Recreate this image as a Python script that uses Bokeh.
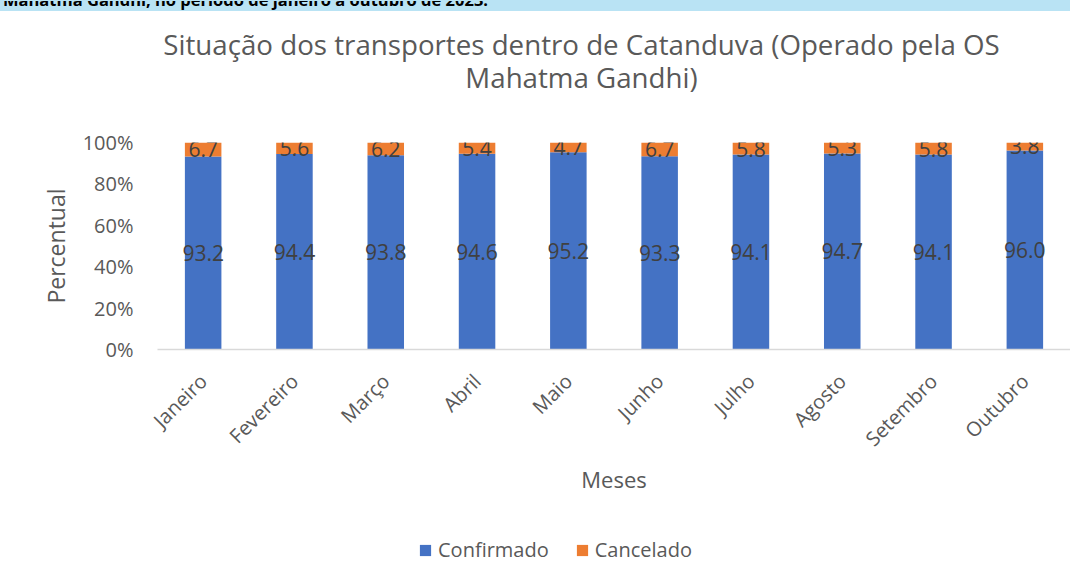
from bokeh.plotting import figure
from bokeh.layouts import column
from bokeh.models import (ColumnDataSource, FactorRange, LabelSet, Label, Legend, LegendItem,
                          NumeralTickFormatter, FixedTicker, Range1d, Div)
from bokeh.core.properties import value
from bokeh.embed import file_html
from bokeh.resources import INLINE
import math

months = ["Janeiro", "Fevereiro", "Março", "Abril", "Maio", "Junho", "Julho", "Agosto", "Setembro", "Outubro"]
confirmado = [93.2, 94.4, 93.8, 94.6, 95.2, 93.3, 94.1, 94.7, 94.1, 96.0]
cancelado = [6.7, 5.6, 6.2, 5.4, 4.7, 6.7, 5.8, 5.3, 5.8, 3.8]
series_names = ["Confirmado", "Cancelado"]
y_ticks = [0, 0.2, 0.4, 0.6, 0.8, 1.0]
heading = "Mahatma Gandhi, no período de janeiro a outubro de 2023."
title_line1 = "Situação dos transportes dentro de Catanduva (Operado pela OS"
title_line2 = "Mahatma Gandhi)"

FONT = "Open Sans"
GREY = "#595959"
LABEL = "#404040"
BLUE = "#4472C4"
ORANGE = "#ED7D31"
STRIP = "#B9E3F4"
W = 1070
LEFT = 157

totals = [a + b for a, b in zip(confirmado, cancelado)]
conf_f = [a / t for a, t in zip(confirmado, totals)]
canc_f = [b / t for b, t in zip(cancelado, totals)]

src = ColumnDataSource(dict(
    month=months,
    conf=conf_f,
    canc=canc_f,
    conf_mid=[c / 2 for c in conf_f],
    canc_mid=[c + d / 2 for c, d in zip(conf_f, canc_f)],
    conf_txt=[f"{v:.1f}" for v in confirmado],
    canc_txt=[f"{v:.1f}" for v in cancelado],
))

# ---- cut-off page heading on the light blue strip ----
head = Div(text=('<div style="height:11px;overflow:hidden;background:%s;">'
                 '<div style="font-family:\'Open Sans\';font-weight:bold;font-size:16.5px;'
                 'line-height:16px;color:#000;white-space:nowrap;margin-top:-9px;margin-left:3px;">'
                 '%s</div></div>') % (STRIP, heading),
           width=W, height=11, margin=0,
           styles={"background-color": STRIP, "overflow": "hidden"})

# ---- title block (frame is aligned with the chart frame by the column) ----
top = figure(width=W, height=109, x_range=Range1d(LEFT, W), y_range=Range1d(109, 0),
             x_axis_type=None, y_axis_type=None, output_backend="svg", toolbar_location=None,
             min_border=0)
top.outline_line_color = None
top.grid.visible = False
top.add_layout(Label(x=581, y=32, text=title_line1, text_align="center", text_baseline="alphabetic",
                     text_font=FONT, text_font_size="27.7px", text_color=GREY))
top.add_layout(Label(x=581, y=65, text=title_line2, text_align="center", text_baseline="alphabetic",
                     text_font=FONT, text_font_size="27.7px", text_color=GREY))

# ---- main chart ----
p = figure(x_range=FactorRange(*months, range_padding=0), y_range=(0, 1),
           width=W, height=400, output_backend="svg", toolbar_location=None,
           min_border_left=LEFT, min_border_right=0, min_border_top=22, min_border_bottom=171)
p.title.visible = False
p.outline_line_color = None
p.xgrid.grid_line_color = None
p.ygrid.grid_line_color = None

r = p.vbar_stack(["conf", "canc"], x="month", width=0.4, source=src,
                 color=[BLUE, ORANGE], line_color=None)

for ycol, tcol in (("conf_mid", "conf_txt"), ("canc_mid", "canc_txt")):
    p.add_layout(LabelSet(x="month", y=ycol, text=tcol, source=src,
                          text_align="center", text_baseline="middle",
                          text_font=value(FONT), text_font_size="21px", text_color=LABEL))

p.yaxis.ticker = FixedTicker(ticks=y_ticks)
p.yaxis.formatter = NumeralTickFormatter(format="0%")
p.yaxis.axis_line_color = None
p.yaxis.major_tick_line_color = None
p.yaxis.minor_tick_line_color = None
p.yaxis.major_tick_out = 0
p.yaxis.major_label_standoff = 24
p.yaxis.major_label_text_font = FONT
p.yaxis.major_label_text_font_size = "20px"
p.yaxis.major_label_text_color = GREY
p.yaxis.axis_label = "Percentual"
p.yaxis.axis_label_text_font = FONT
p.yaxis.axis_label_text_font_size = "23px"
p.yaxis.axis_label_text_font_style = "normal"
p.yaxis.axis_label_text_color = GREY
p.yaxis.axis_label_standoff = 8

p.xaxis.axis_line_color = "#D9D9D9"
p.xaxis.axis_line_width = 1.5
p.xaxis.major_tick_line_color = None
p.xaxis.minor_tick_line_color = None
p.xaxis.major_tick_out = 0
p.xaxis.major_label_orientation = math.pi / 4
p.xaxis.major_label_standoff = 28
p.xaxis.major_label_text_font = FONT
p.xaxis.major_label_text_font_size = "20px"
p.xaxis.major_label_text_color = GREY
p.xaxis.axis_label = "Meses"
p.xaxis.axis_label_text_font = FONT
p.xaxis.axis_label_text_font_size = "22px"
p.xaxis.axis_label_text_font_style = "normal"
p.xaxis.axis_label_text_color = GREY
p.xaxis.axis_label_standoff = 0

# ---- legend block ----
leg = figure(width=W, height=45, x_range=FactorRange(*months, range_padding=0), y_range=Range1d(0, 1),
             x_axis_type=None, y_axis_type=None, output_backend="svg", toolbar_location=None,
             min_border=0)
leg.outline_line_color = None
leg.grid.visible = False
lr = leg.vbar_stack(["conf", "canc"], x="month", width=0.4, source=src,
                    color=[BLUE, ORANGE], line_color=None)
for rr in lr:
    rr.visible = False
legend = Legend(items=[LegendItem(label=series_names[0], renderers=[lr[0]]),
                       LegendItem(label=series_names[1], renderers=[lr[1]])],
                orientation="horizontal", location=(418 - LEFT, 2),
                label_text_font=FONT, label_text_font_size="20px", label_text_color=GREY,
                glyph_width=14, glyph_height=14, label_standoff=6, spacing=26,
                padding=0, margin=0, border_line_color=None, background_fill_alpha=0,
                inactive_fill_alpha=0)
leg.add_layout(legend, "center")

layout = column(head, top, p, leg, spacing=0)
open("out.html", "w").write(file_html(layout, INLINE))
